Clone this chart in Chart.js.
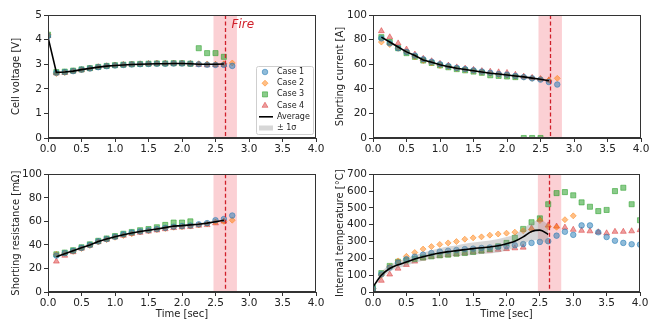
<!DOCTYPE html>
<html>
<head>
<meta charset="utf-8">
<script src="https://cdn.jsdelivr.net/npm/chart.js@4.4.1/dist/chart.umd.min.js"></script>
<style>
  html, body { margin: 0; padding: 0; background: #fff; }
  #wrap { position: relative; width: 660px; height: 332px; }
  canvas { position: absolute; }
</style>
</head>
<body>
<div id="wrap">
  <canvas id="voltage" width="330" height="166" style="left:0;top:0"></canvas>
  <canvas id="current" width="330" height="166" style="left:330px;top:0"></canvas>
  <canvas id="resistance" width="330" height="166" style="left:0;top:166px"></canvas>
  <canvas id="temperature" width="330" height="166" style="left:330px;top:166px"></canvas>
</div>
<script>
const times = [0, 0.125, 0.25, 0.375, 0.5, 0.625, 0.75, 0.875, 1, 1.125, 1.25, 1.375, 1.5, 1.625, 1.75, 1.875,
  2, 2.125, 2.25, 2.375, 2.5, 2.625, 2.75, 2.875, 3, 3.125, 3.25, 3.375, 3.5, 3.625, 3.75, 3.875, 4];

const caseLabels = [`Case 1`, `Case 2`, `Case 3`, `Case 4`];
const caseColors = [`rgba(31,119,180,0.5)`, `rgba(255,127,14,0.5)`, `rgba(44,160,44,0.55)`, `rgba(214,39,40,0.45)`];
const caseStyles = [`circle`, `rectRot`, `rect`, `triangle`];
const caseSizes = [2.8, 3.0, 3.6, 3.4];

// fire onset (mean) and its +/- 1 sigma window
const fireTime = 2.64;
const fireLow = 2.47;
const fireHigh = 2.82;

const voltCase1 = [4.15, 2.65, 2.68, 2.72, 2.78, 2.83, 2.88, 2.92, 2.95, 2.97, 2.99, 3.0, 3.01, 3.02, 3.02, 3.03, 3.03, 3.02, 3.0, 2.98, 2.97, 2.97, 2.93];
const voltCase2 = [4.2, 2.62, 2.66, 2.72, 2.77, 2.83, 2.89, 2.93, 2.96, 2.98, 3.0, 3.01, 3.02, 3.03, 3.03, 3.04, 3.04, 3.03, 3.02, 3.01, 3.0, 3.02, 3.05];
const voltCase3 = [4.2, 2.68, 2.7, 2.74, 2.79, 2.84, 2.89, 2.93, 2.96, 2.98, 3.0, 3.01, 3.02, 3.03, 3.03, 3.04, 3.04, 3.02, 3.65, 3.45, 3.45, 3.3];
const voltCase4 = [4.15, 2.63, 2.65, 2.71, 2.76, 2.82, 2.88, 2.92, 2.95, 2.97, 2.99, 3.0, 3.01, 3.02, 3.02, 3.03, 3.03, 3.0, 2.98, 2.96, 2.97, 2.98];
const voltAvg = [4.1, 2.67, 2.68, 2.72, 2.78, 2.83, 2.88, 2.92, 2.95, 2.97, 2.99, 3.0, 3.01, 3.02, 3.02, 3.03, 3.03, 3.02, 3.0, 3.0, 3.0, 3.01];

const currCase1 = [null, 81, 77, 73, 70, 67, 64, 62, 60, 58.5, 57, 56, 55, 54, 53, 52, 51.5, 50.5, 49.5, 48.5, 47.5, 45.5, 43.5];
const currCase2 = [null, 78, 76, 73, 70, 66, 63, 61, 59, 58, 56.5, 55.5, 54.5, 53.5, 52.5, 51.5, 51, 50, 49.5, 48.5, 48, 47, 48.5];
const currCase3 = [null, 82, 78, 73, 69, 66, 63, 61, 59, 57.5, 56, 55, 54, 53, 51, 50.5, 50, 49.5, 0, 0, 0];
const currCase4 = [null, 87, 82, 77, 72, 68, 64.5, 62.5, 60.5, 59, 57.5, 56.5, 55.5, 54.5, 54, 53.5, 53, 51.5, 50, 49, 48, 47];
const currAvg = [null, 82, 78, 74, 70, 67, 63.5, 61.5, 59.5, 58, 56.7, 55.7, 54.7, 53.7, 52.7, 52, 51.2, 50.4, 49.7, 48.7, 47.8, 46.5];

const resCase1 = [null, 31, 33, 35, 37.5, 40, 43, 45, 47, 49, 50.5, 51.5, 52.5, 53.5, 54.5, 55.5, 56, 56.5, 57.5, 58.5, 61, 62, 65];
const resCase2 = [null, 32, 33, 34.5, 37, 39.5, 42.5, 44.5, 46.5, 48, 49.5, 51, 52, 53, 54, 55, 55.5, 56, 57, 58, 59.5, 60, 61];
const resCase3 = [null, 32, 33.5, 35.5, 38, 40.5, 43.5, 45.5, 47.5, 49.5, 51, 52.5, 53.5, 55, 57, 59, 59, 60];
const resCase4 = [null, 26, 31, 34, 37, 39.5, 42.5, 44.5, 46.5, 48, 49.5, 50.5, 51.5, 52.5, 53.5, 54.5, 55, 55.5, 56.5, 57, 58.5, 60];
const resAvg = [null, 30, 32.5, 35, 37.5, 40, 43, 45, 47, 48.7, 50.2, 51.4, 52.4, 53.5, 54.7, 56, 56.4, 57, 57.5, 58.5, 59.7, 61];

const tempCase1 = [20, 105, 145, 175, 195, 210, 222, 232, 240, 245, 250, 255, 258, 262, 265, 268, 272, 278, 285, 292, 298, 302, 335, 358, 340, 396, 396, 355, 327, 305, 292, 284, 282];
const tempCase2 = [20, 100, 150, 185, 212, 235, 255, 270, 283, 292, 300, 314, 322, 328, 338, 345, 350, 356, 365, 372, 425, 388, 385, 430, 453];
const tempCase3 = [25, 112, 155, 180, 188, 197, 205, 212, 218, 222, 228, 232, 238, 246, 256, 272, 292, 322, 375, 415, 438, 522, 588, 594, 575, 533, 507, 481, 488, 600, 620, 522, 427];
const tempCase4 = [15, 68, 105, 140, 162, 182, 200, 210, 215, 220, 225, 231, 237, 242, 247, 252, 256, 261, 265, 380, 430, 397, 390, 384, 371, 365, 362, 356, 350, 359, 359, 362, 369];
const tempAvg = [30, 100, 140, 162, 178, 196, 210, 222, 232, 240, 246, 252, 258, 263, 268, 275, 287, 302, 328, 360, 368, 342];
const tempLow = [25, 82, 120, 142, 156, 174, 186, 196, 204, 210, 215, 217, 222, 226, 229, 235, 247, 262, 280, 308, 306, 282];
const tempHigh = [35, 118, 160, 182, 200, 218, 234, 248, 260, 270, 277, 287, 294, 300, 307, 315, 327, 342, 376, 412, 430, 402];

const TEXT = `#222`;
const AXIS = `#333`;
const tickFont = {family: `"DejaVu Sans"`, size: 10.5};
const titleFont = {family: `"DejaVu Sans"`, size: 10};

const toPoints = (values) => values
  .map((y, i) => ({x: times[i], y}))
  .filter((p) => p.y !== null && p.y !== undefined);

const caseDatasets = (series) => series.map((values, i) => ({
  label: caseLabels[i],
  data: toPoints(values),
  pointStyle: caseStyles[i],
  pointRadius: caseSizes[i],
  backgroundColor: caseColors[i],
  borderColor: caseColors[i],
  borderWidth: 1,
  order: 5
}));

const avgDataset = (values, smooth) => ({
  type: `line`,
  label: `Average`,
  data: toPoints(values),
  borderColor: `#000`,
  borderWidth: 1.6,
  pointRadius: 0,
  fill: false,
  cubicInterpolationMode: smooth ? `monotone` : `default`,
  order: 1
});

const bandDatasets = (low, high) => [{
  type: `line`,
  label: `low`,
  data: toPoints(low),
  borderWidth: 0,
  pointRadius: 0,
  fill: false,
  cubicInterpolationMode: `monotone`,
  order: 3
}, {
  type: `line`,
  label: `± 1σ`,
  data: toPoints(high),
  borderWidth: 0,
  pointRadius: 0,
  fill: `-1`,
  backgroundColor: `rgba(140,140,140,0.35)`,
  cubicInterpolationMode: `monotone`,
  order: 3
}];

const fireWindow = {
  id: `fireWindow`,
  beforeDatasetsDraw(chart) {
    const {ctx, chartArea, scales: {x}} = chart;
    const x0 = x.getPixelForValue(fireLow);
    const x1 = x.getPixelForValue(fireHigh);
    ctx.save();
    ctx.fillStyle = `rgba(235,40,60,0.22)`;
    ctx.fillRect(x0, chartArea.top, x1 - x0, chartArea.bottom - chartArea.top);
    ctx.restore();
  },
  afterDatasetsDraw(chart, args, opts) {
    const {ctx, chartArea, scales: {x}} = chart;
    const xf = Math.round(x.getPixelForValue(fireTime)) + 0.5;
    ctx.save();
    ctx.strokeStyle = `#d0202a`;
    ctx.lineWidth = 1.3;
    ctx.setLineDash([4, 2.5]);
    ctx.beginPath();
    ctx.moveTo(xf, chartArea.top);
    ctx.lineTo(xf, chartArea.bottom);
    ctx.stroke();
    ctx.setLineDash([]);
    if (opts.label) {
      ctx.fillStyle = `#d0202a`;
      ctx.font = `italic 12px "DejaVu Sans"`;
      ctx.textBaseline = `alphabetic`;
      ctx.fillText(opts.label, xf + 6, chartArea.top + 13);
    }
    // closed frame like the other spines
    ctx.strokeStyle = AXIS;
    ctx.lineWidth = 1;
    ctx.strokeRect(Math.round(chartArea.left) + 0.5, Math.round(chartArea.top) + 0.5,
      Math.round(chartArea.right - chartArea.left) - 1, Math.round(chartArea.bottom - chartArea.top) - 1);
    ctx.restore();
  }
};

const legendBox = {
  id: `legendBox`,
  afterDraw(chart, args, opts) {
    if (!opts.show) {
      return;
    }
    const {ctx, chartArea} = chart;
    const w = 57;
    const h = 68;
    const left = chartArea.right - 3 - w;
    const top = chartArea.bottom - 4 - h;
    ctx.save();
    ctx.fillStyle = `rgba(255,255,255,0.85)`;
    ctx.strokeStyle = `#cfcfcf`;
    ctx.lineWidth = 1;
    ctx.beginPath();
    ctx.roundRect(left + 0.5, top + 0.5, w, h, 2);
    ctx.fill();
    ctx.stroke();

    ctx.font = `8px "DejaVu Sans"`;
    ctx.textBaseline = `middle`;
    const rowY = (i) => top + 6 + i * 11.2;
    const mx = left + 9;
    const tx = left + 21;

    caseLabels.forEach((label, i) => {
      ctx.fillStyle = caseColors[i];
      ctx.strokeStyle = caseColors[i];
      Chart.helpers.drawPoint(ctx, {pointStyle: caseStyles[i], radius: caseSizes[i], borderWidth: 1}, mx, rowY(i));
      ctx.fillStyle = TEXT;
      ctx.fillText(label, tx, rowY(i));
    });

    ctx.strokeStyle = `#000`;
    ctx.lineWidth = 1.6;
    ctx.beginPath();
    ctx.moveTo(left + 3, rowY(4));
    ctx.lineTo(left + 17, rowY(4));
    ctx.stroke();
    ctx.fillStyle = TEXT;
    ctx.fillText(`Average`, tx, rowY(4));

    ctx.fillStyle = `rgba(140,140,140,0.35)`;
    ctx.fillRect(left + 3, rowY(5) - 2.5, 14, 5);
    ctx.fillStyle = TEXT;
    ctx.fillText(`± 1σ`, tx, rowY(5));
    ctx.restore();
  }
};

const xAxis = (withTitle) => ({
  type: `linear`,
  min: 0,
  max: 4,
  ticks: {stepSize: 0.5, callback: (v) => v.toFixed(1), font: tickFont, color: TEXT, padding: 1, maxRotation: 0, autoSkip: false},
  grid: {display: true, drawOnChartArea: false, tickLength: 4, color: AXIS},
  border: {display: true, color: AXIS},
  title: {display: withTitle, text: `Time [sec]`, font: titleFont, color: TEXT, padding: {top: 0, bottom: 12}},
  afterFit: (scale) => {
    scale.height = withTitle ? 40 : 28;
  }
});

const yAxis = (max, step, text, width, titlePad) => ({
  type: `linear`,
  min: 0,
  max,
  ticks: {stepSize: step, font: tickFont, color: TEXT, padding: 2},
  grid: {display: true, drawOnChartArea: false, tickLength: 4, color: AXIS},
  border: {display: true, color: AXIS},
  title: {display: true, text, font: titleFont, color: TEXT, padding: {top: titlePad, bottom: 0}},
  afterFit: (scale) => {
    scale.width = width;
  }
});

const renderPanel = (id, datasets, {x, y, padding, fireLabel, legend}) => {
  return new Chart(document.getElementById(id), {
    type: `scatter`,
    data: {datasets},
    options: {
      responsive: false,
      animation: false,
      layout: {padding},
      scales: {x, y},
      plugins: {
        legend: {display: false},
        tooltip: {enabled: false},
        fireWindow: {label: fireLabel},
        legendBox: {show: legend}
      }
    },
    plugins: [fireWindow, legendBox]
  });
};

renderPanel(`voltage`,
  [...caseDatasets([voltCase1, voltCase2, voltCase3, voltCase4]), avgDataset(voltAvg, false)], {
    x: xAxis(false),
    y: yAxis(5, 1, `Cell voltage [V]`, 48, 10),
    padding: {top: 15, right: 14, left: 0, bottom: 0},
    fireLabel: `Fire`,
    legend: true
  });

renderPanel(`current`,
  [...caseDatasets([currCase1, currCase2, currCase3, currCase4]), avgDataset(currAvg, false)], {
    x: xAxis(false),
    y: yAxis(100, 20, `Shorting current [A]`, 43, 4.5),
    padding: {top: 15, right: 19, left: 0, bottom: 0},
    fireLabel: ``,
    legend: false
  });

renderPanel(`resistance`,
  [...caseDatasets([resCase1, resCase2, resCase3, resCase4]), avgDataset(resAvg, false)], {
    x: xAxis(true),
    y: yAxis(100, 20, `Shorting resistance [mΩ]`, 48, 10),
    padding: {top: 3, right: 14, left: 0, bottom: 0},
    fireLabel: ``,
    legend: false
  });

renderPanel(`temperature`,
  [...bandDatasets(tempLow, tempHigh), ...caseDatasets([tempCase1, tempCase2, tempCase3, tempCase4]), avgDataset(tempAvg, true)], {
    x: xAxis(true),
    y: yAxis(700, 100, `Internal temperature [°C]`, 43, 4.5),
    padding: {top: 3, right: 20, left: 0, bottom: 0},
    fireLabel: ``,
    legend: false
  });
</script>
</body>
</html>
